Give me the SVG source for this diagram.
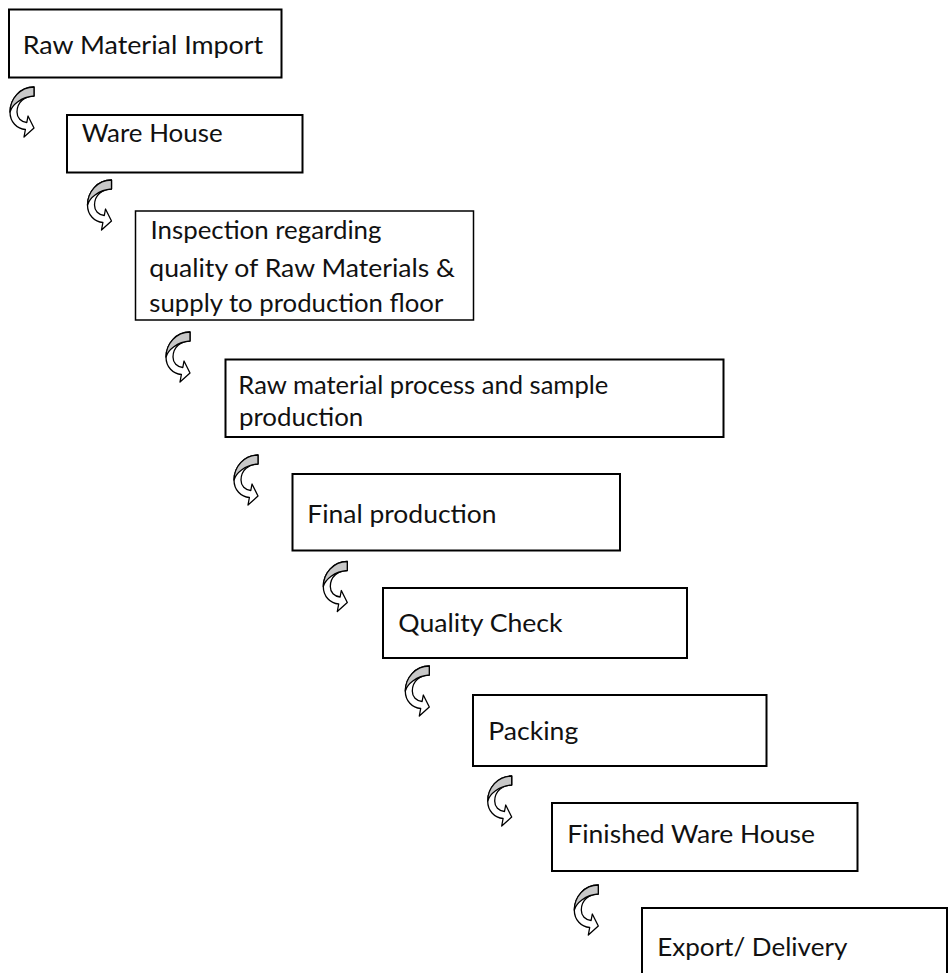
<svg xmlns="http://www.w3.org/2000/svg" xmlns:xlink="http://www.w3.org/1999/xlink" width="948" height="973" viewBox="0 0 948 973">
<style>
.box{fill:#fff;stroke:#000;stroke-width:2}
.thin{stroke-width:1.5}
.lbl{font-family:Lato,"Open Sans","Liberation Sans",sans-serif;font-size:25px;fill:#111}
.arr-w{fill:#fff;stroke:#000;stroke-width:1.3;stroke-linejoin:round}
.arr-g{fill:#c8c8c8;stroke:#000;stroke-width:1.3;stroke-linejoin:round}
</style>
<defs>
<g id="carrow">
<path class="arr-w" d="M24,0 C10,0 0,12 0,25 C0,35 7,42 15.4,42.5 L14,50 L24,41 L18,29 L16.8,35.5 C11,35 7,31 7,25 C7,15 15,9 24,9 Z"/>
<path class="arr-g" d="M24,0 C10,0 0,12 0,25 C2,18 11,10 24,9 Z"/>
</g>
</defs>
<rect width="948" height="973" fill="#fff"/>
<g id="connectors">
<use xlink:href="#carrow" href="#carrow" transform="translate(10,87)"/>
<use xlink:href="#carrow" href="#carrow" transform="translate(87.5,180)"/>
<use xlink:href="#carrow" href="#carrow" transform="translate(166,332)"/>
<use xlink:href="#carrow" href="#carrow" transform="translate(234,455)"/>
<use xlink:href="#carrow" href="#carrow" transform="translate(323.3,561.5)"/>
<use xlink:href="#carrow" href="#carrow" transform="translate(405.3,666)"/>
<use xlink:href="#carrow" href="#carrow" transform="translate(487.7,776)"/>
<use xlink:href="#carrow" href="#carrow" transform="translate(574.3,885)"/>
</g>
<g id="n1">
<rect class="box" x="9" y="9.5" width="272.5" height="68"/>
<text class="lbl" x="22.7" y="54.3" textLength="240.5" lengthAdjust="spacingAndGlyphs">Raw Material Import</text>
</g>
<g id="n2">
<rect class="box" x="67" y="115" width="235.5" height="57.5"/>
<text class="lbl" x="81.7" y="141.7" textLength="141" lengthAdjust="spacingAndGlyphs">Ware House</text>
</g>
<g id="n3">
<rect class="box thin" x="135.5" y="211" width="338" height="109"/>
<text class="lbl" x="150.5" y="239" textLength="231" lengthAdjust="spacingAndGlyphs">Inspection regarding</text>
<text class="lbl" x="149.3" y="277" textLength="305.7" lengthAdjust="spacingAndGlyphs">quality of Raw Materials &amp;</text>
<text class="lbl" x="149.3" y="312" textLength="294" lengthAdjust="spacingAndGlyphs">supply to production floor</text>
</g>
<g id="n4">
<rect class="box" x="225.5" y="359.5" width="498" height="77.5"/>
<text class="lbl" x="238.3" y="394" textLength="370" lengthAdjust="spacingAndGlyphs">Raw material process and sample</text>
<text class="lbl" x="239" y="426" textLength="124.3" lengthAdjust="spacingAndGlyphs">production</text>
</g>
<g id="n5">
<rect class="box" x="292.5" y="474" width="327.5" height="76.5"/>
<text class="lbl" x="307.3" y="523" textLength="189.3" lengthAdjust="spacingAndGlyphs">Final production</text>
</g>
<g id="n6">
<rect class="box" x="383" y="588" width="304" height="70"/>
<text class="lbl" x="398.3" y="632" textLength="164.3" lengthAdjust="spacingAndGlyphs">Quality Check</text>
</g>
<g id="n7">
<rect class="box" x="473" y="695" width="293.5" height="71"/>
<text class="lbl" x="488.3" y="740" textLength="90" lengthAdjust="spacingAndGlyphs">Packing</text>
</g>
<g id="n8">
<rect class="box" x="552" y="803" width="305.5" height="68"/>
<text class="lbl" x="567.3" y="843" textLength="247.7" lengthAdjust="spacingAndGlyphs">Finished Ware House</text>
</g>
<g id="n9">
<rect class="box" x="642" y="908" width="305" height="80"/>
<text class="lbl" x="657.3" y="956" textLength="190" lengthAdjust="spacingAndGlyphs">Export/ Delivery</text>
</g>
</svg>
